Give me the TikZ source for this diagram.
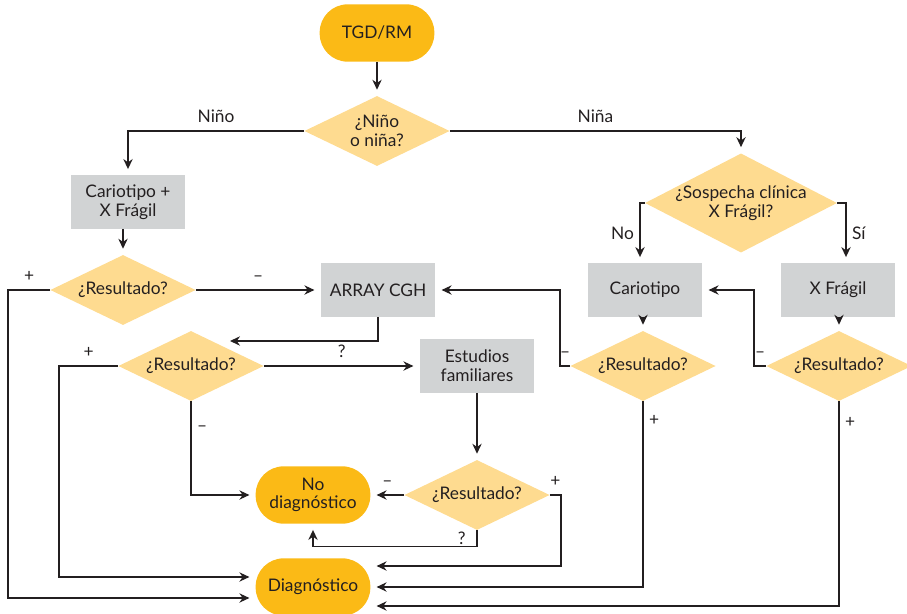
\documentclass[tikz,border=0pt]{standalone}
\usepackage{fontspec}
\setmainfont{Lato}
\usetikzlibrary{shapes.geometric,arrows.meta}

\definecolor{tgdorange}{HTML}{FBBA16}
\definecolor{diamondyellow}{HTML}{FEDB90}
\definecolor{boxgrey}{HTML}{D1D3D4}
\definecolor{linedark}{HTML}{231F20}

\newcommand\boxwidth{86pt}

\begin{document}
\begin{tikzpicture}[x=0.75pt,y=-0.75pt,
  font=\fontsize{13}{14}\selectfont, text=linedark,
  terminal/.style={rectangle, rounded corners=21pt, fill=tgdorange, minimum width=\boxwidth, minimum height=43pt, align=center},
  process/.style={rectangle, fill=boxgrey, minimum width=\boxwidth, minimum height=40pt, align=center},
  decision/.style={diamond, fill=diamondyellow, minimum width=109pt, minimum height=52.5pt, inner xsep=-25pt, inner ysep=0pt, align=center},
  flow/.style={draw=linedark, line width=1pt, -{Stealth[length=7.5pt,width=7pt]}, shorten >=4.5pt},
  tag/.style={inner xsep=4pt, inner ysep=6pt, text height=9pt, text depth=0pt}
]
\useasboundingbox (0,0) rectangle (907,614);

% Knoten
\draw (377,33) node[terminal] (TGD) {TGD/RM};
\draw (377,131) node[decision] (Sexo) {¿Niño\\o niña?};
\draw (128,202) node[process] (CarXF) {Cariotipo +\\X Frágil};
\draw (123,290) node[decision] (ResA) {¿Resultado?};
\draw (378,290) node[process] (Array) {ARRAY CGH};
\draw (191,366) node[decision] (ResB) {¿Resultado?};
\draw (477,366) node[process] (Estudios) {Estudios\\familiares};
\draw (477,495) node[decision] (ResC) {¿Resultado?};
\draw (313,495) node[terminal] (NoDiag) {No\\diagnóstico};
\draw (313,587) node[terminal] (Diag) {Diagnóstico};
\draw (741,203) node[decision, minimum width=144pt] (Sospecha) {¿Sospecha clínica\\X Frágil?};
\draw (645,290) node[process] (Cario) {Cariotipo};
\draw (838,290) node[process] (XFrag) {X Frágil};
\draw (643,366) node[decision] (ResD) {¿Resultado?};
\draw (839,366) node[decision] (ResE) {¿Resultado?};
\coordinate (ResBin) at (230,341);

% Striche
\draw[flow] (TGD) -- (Sexo);
\draw[flow] (Sexo.west) -| node[tag, pos=0.25, above] {Niño} (CarXF.north);
\draw[flow] (Sexo.east) -| node[tag, pos=0.25, above] {Niña} (Sospecha.north);
\draw[flow] (ResA.north |- CarXF.south) -- (ResA.north);
\draw[flow] (ResA.west) -- node[tag, above] {+} ++(-42,0) |- ([yshift=-8.25pt]Diag.west);
\draw[flow] (ResA.east) -- node[tag, above] {–} (Array.west);
\draw[flow, shorten >=0pt] (Array.south) |- (ResBin);
\draw[flow] (ResB.west) -- node[tag, above] {+} ++(-59,0) |- ([yshift=7.5pt]Diag.west);
\draw[flow] (ResB.east) -- node[tag, above] {?} (Estudios.west);
\draw[flow] (ResB.south) |- node[tag, pos=0.13, right] {–} (NoDiag.west);
\draw[flow] (Estudios) -- (ResC);
\draw[flow] (ResC.west) -- node[tag, above] {–} (NoDiag.east);
\draw[flow] (ResC.south) -- node[tag, left, xshift=-4pt] {?} ++(0,16) -| (NoDiag.south);
\draw[flow] (ResC.east) -- node[tag, above] {+} ++(11,0) |- ([yshift=15.75pt]Diag.east);
\draw[flow] (Sospecha.west) -| node[tag, pos=0.75, left] {No} ([xshift=-3.75pt]Cario.north);
\draw[flow] (Sospecha.east) -| node[tag, pos=0.75, right] {Sí} ([xshift=6pt]XFrag.north);
\draw[flow] (ResD.north |- Cario.south) -- (ResD.north);
\draw[flow] (ResE.north |- XFrag.south) -- (ResE.north);
\draw[flow] (ResD.west) -- node[tag, above] {–} ++(-10,0) |- (Array.east);
\draw[flow] (ResE.west) -- node[tag, above] {–} ++(-12,0) |- (Cario.east);
\draw[flow] (ResD.south) |- node[tag, pos=0.05, right] {+} (Diag.east);
\draw[flow] (ResE.south) |- node[tag, pos=0.05, right] {+} ([yshift=-14.25pt]Diag.east);

\end{tikzpicture}
\end{document}
